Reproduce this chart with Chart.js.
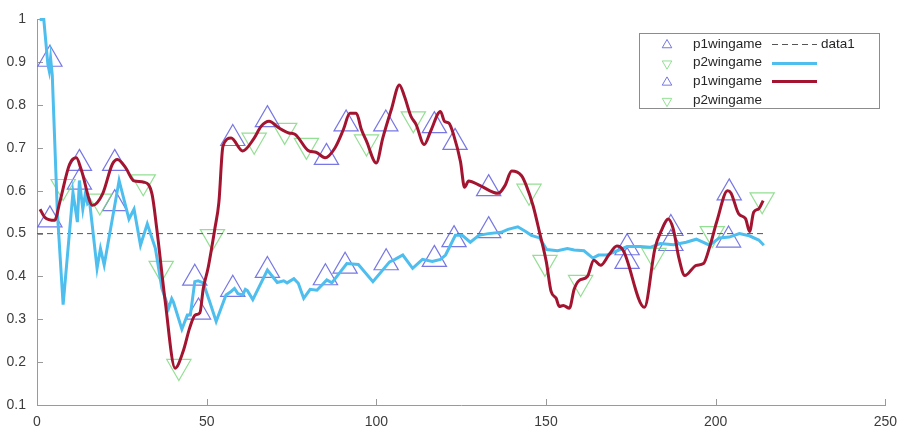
<!DOCTYPE html>
<html>
<head>
<meta charset="utf-8">
<script src="https://cdn.jsdelivr.net/npm/chart.js@4.4.0/dist/chart.umd.min.js"></script>
<style>
  html, body { margin: 0; padding: 0; background: #fff; }
  .wrap { width: 906px; height: 432px; position: relative; }
</style>
</head>
<body>
<div class="wrap"><canvas id="win-chart"></canvas></div>
<script>

// тики осей
const xTicks = [0, 50, 100, 150, 200, 250];
const yTicks = [0.1, 0.2, 0.3, 0.4, 0.5, 0.6, 0.7, 0.8, 0.9, 1];

// голубая линия
const blueX = [0.8, 2, 3.2, 3.6, 4, 4.5, 6, 7.7, 10.6, 11.9, 12.5, 13.5, 14.3, 14.9, 15.5, 17.7, 18.7, 19.8, 24.2, 27.1,
  28.6, 30.5, 32.5, 34.9, 36.8, 38.8, 39.7, 40.2, 42.7, 44.3, 45.2, 46.5, 47.5, 49, 50.9, 52.8, 55.7, 57.2, 58.2, 59.2,
  60.6, 61.4, 62, 63.6, 67.9, 70.8, 72.7, 73.7, 75.7, 77, 78.6, 80.5, 82.5, 85.4, 86.9, 91.3, 94.7, 99, 103.9, 105.5,
  107.8, 110.7, 113.6, 116.5, 118.9, 120.4, 123.3, 125.3, 127.7, 130.2, 133, 136.8, 138.8, 141.7, 144, 145.7, 148.1, 150.2, 153.4, 156.3,
  158.3, 161.2, 163.8, 165.5, 167.9, 171, 173.9, 177.8, 180.7, 183.7, 187.6, 191.3, 194.3, 198.2, 201.1, 204, 207, 209.9, 212.7, 214.2];
const blueY = [1, 1, 0.895, 0.88, 0.91, 0.87, 0.55, 0.334, 0.596, 0.527, 0.624, 0.557, 0.596, 0.57, 0.575, 0.419, 0.465, 0.427, 0.624, 0.534,
  0.557, 0.473, 0.523, 0.465, 0.372, 0.326, 0.348, 0.34, 0.277, 0.31, 0.31, 0.388, 0.39, 0.385, 0.341, 0.295, 0.357, 0.365, 0.372, 0.36,
  0.357, 0.37, 0.367, 0.346, 0.415, 0.386, 0.39, 0.385, 0.395, 0.384, 0.349, 0.37, 0.368, 0.392, 0.385, 0.43, 0.428, 0.388, 0.434, 0.44,
  0.45, 0.419, 0.44, 0.435, 0.44, 0.45, 0.496, 0.496, 0.48, 0.496, 0.5, 0.503, 0.51, 0.516, 0.505, 0.496, 0.49, 0.463, 0.46, 0.465,
  0.462, 0.46, 0.443, 0.45, 0.45, 0.46, 0.47, 0.47, 0.468, 0.477, 0.474, 0.48, 0.487, 0.473, 0.49, 0.492, 0.5, 0.495, 0.485, 0.473];

// бордовая линия
const redX = [0.9, 2.3, 5.2, 6.7, 9.6, 11.6, 13, 16.4, 19.3, 22.2, 23.7, 26.1, 28.6, 31.5, 33.9, 35.3, 37.8, 40.7, 43.1, 45,
  46.6, 48, 49, 50.4, 52.4, 53.6, 54.8, 57.2, 60.6, 64, 66, 68.4, 71.2, 74.2, 76, 80.1, 82.2, 84.9, 87.8, 90.3,
  92.2, 94.1, 95.6, 97.1, 100, 101.9, 104.4, 106.8, 108.3, 110.2, 111.7, 114.1, 116, 118.9, 120.1, 121.4, 122.8, 124.8, 126, 127.2,
  130.6, 135.9, 137.9, 139.9, 142.8, 144.2, 146.2, 148.1, 150.1, 151.5, 153, 153.9, 155.1, 156.9, 158.3, 159.7, 162.2, 164.1, 166.1, 168.5,
  170.9, 172.8, 179, 182.1, 184.1, 186, 187.5, 189.2, 190.9, 194.3, 196.4, 198.2, 200.4, 203.5, 204.5, 206.8, 208.8, 210, 211.2, 212.7, 214];
const redY = [0.557, 0.538, 0.531, 0.573, 0.662, 0.677, 0.65, 0.566, 0.592, 0.662, 0.673, 0.654, 0.623, 0.62, 0.592, 0.511, 0.341, 0.186, 0.226, 0.28,
  0.31, 0.315, 0.372, 0.419, 0.511, 0.573, 0.704, 0.723, 0.693, 0.723, 0.75, 0.762, 0.747, 0.735, 0.732, 0.693, 0.69, 0.677, 0.7, 0.743,
  0.781, 0.781, 0.743, 0.716, 0.665, 0.723, 0.789, 0.847, 0.82, 0.774, 0.755, 0.708, 0.739, 0.785, 0.762, 0.758, 0.73, 0.668, 0.608, 0.623,
  0.612, 0.594, 0.612, 0.646, 0.635, 0.612, 0.565, 0.503, 0.434, 0.365, 0.349, 0.33, 0.332, 0.326, 0.37, 0.39, 0.4, 0.438, 0.426, 0.45,
  0.471, 0.46, 0.328, 0.465, 0.509, 0.534, 0.511, 0.442, 0.402, 0.426, 0.43, 0.468, 0.53, 0.6, 0.595, 0.546, 0.535, 0.505, 0.55, 0.558, 0.577];

// data1
const dashX = [0, 215];
const dashY = [0.5, 0.5];

// маркеры побед (на бордовой)
const p1RedX = [3.8, 12.5, 22.9, 47.6, 57.7, 67.9, 85.3, 91.1, 102.8, 117.1, 123.2, 133.1, 173.9, 186.8, 204];
const p1RedY = [0.532, 0.664, 0.664, 0.317, 0.722, 0.766, 0.678, 0.756, 0.756, 0.752, 0.713, 0.605, 0.435, 0.512, 0.595];
const p2RedX = [7.7, 18.5, 31.3, 36.6, 41.8, 51.7, 64, 73, 79.4, 97.1, 110.9, 145, 149.7, 160.2, 181.8, 199, 213.7];
const p2RedY = [0.61, 0.576, 0.621, 0.419, 0.19, 0.493, 0.718, 0.741, 0.706, 0.714, 0.768, 0.599, 0.433, 0.386, 0.449, 0.5, 0.579];

// маркеры побед (на голубой)
const p1BlueX = [3.8, 12.5, 22.9, 46.5, 57.7, 67.9, 85, 90.8, 102.9, 117.1, 122.9, 133.1, 173.9, 186.8, 203.8];
const p1BlueY = [0.907, 0.62, 0.57, 0.396, 0.37, 0.414, 0.397, 0.424, 0.432, 0.44, 0.486, 0.507, 0.467, 0.477, 0.485];
const p2BlueX = [];
const p2BlueY = [];

const axisColor = '#9a9a9a';
const fontFamily = '"Liberation Sans", Arial, Helvetica, sans-serif';

function toPts(xs, ys) {
    return xs.map((x, i) => ({x: x, y: ys[i]}));
}

function tri(c, x, y, r, down) {
    const s = down ? -1 : 1;
    c.beginPath();
    c.moveTo(x, y - s * r);
    c.lineTo(x + 0.866 * r, y + s * 0.5 * r);
    c.lineTo(x - 0.866 * r, y + s * 0.5 * r);
    c.closePath();
    c.stroke();
}

// засечки внутрь, как в матлабе
const inwardTicks = {
    id: 'inwardTicks',
    beforeDatasetsDraw(chart) {
        const c = chart.ctx, area = chart.chartArea;
        const sx = chart.scales.x, sy = chart.scales.y;
        c.save();
        c.strokeStyle = axisColor;
        c.lineWidth = 1;
        c.beginPath();
        xTicks.forEach(v => {
            const px = Math.round(sx.getPixelForValue(v)) + 0.5;
            c.moveTo(px, area.bottom);
            c.lineTo(px, area.bottom - 6);
        });
        yTicks.forEach(v => {
            const py = Math.round(sy.getPixelForValue(v)) + 0.5;
            c.moveTo(area.left, py);
            c.lineTo(area.left + 6, py);
        });
        c.stroke();
        c.restore();
    }
};

// легенда в две колонки
const legendBox = {
    id: 'legendBox',
    afterDraw(chart) {
        const c = chart.ctx;
        const ds = chart.data.datasets;
        const rowY = i => 44 + i * 18.7;
        c.save();
        c.fillStyle = '#fff';
        c.fillRect(639.5, 33.5, 240, 75);
        c.strokeStyle = '#8c8c8c';
        c.lineWidth = 1;
        c.strokeRect(639.5, 33.5, 240, 75);
        c.font = '13.5px ' + fontFamily;
        c.textBaseline = 'middle';
        c.textAlign = 'left';

        for (let i = 0; i < 4; i++) {
            c.strokeStyle = ds[i].pointBorderColor;
            c.lineWidth = 1;
            tri(c, 667, rowY(i) + 1, 5.5, ds[i].pointRotation === 180);
            c.fillStyle = '#262626';
            c.fillText(ds[i].label, 693, rowY(i));
        }
        for (let j = 4; j < 7; j++) {
            const y = Math.round(rowY(j - 4)) + 0.5;
            c.strokeStyle = ds[j].borderColor;
            c.lineWidth = ds[j].borderWidth;
            c.setLineDash(ds[j].borderDash || []);
            c.beginPath();
            c.moveTo(772, y);
            c.lineTo(817, y);
            c.stroke();
            c.setLineDash([]);
            if (ds[j].label) {
                c.fillStyle = '#262626';
                c.fillText(ds[j].label, 821, rowY(j - 4));
            }
        }
        c.restore();
    }
};

const markerBase = {
    pointStyle: 'triangle',
    pointRadius: 14,
    pointBackgroundColor: 'rgba(0,0,0,0)',
    pointBorderWidth: 1.2,
    showLine: false,
    order: 3
};

const ctx = document.getElementById('win-chart').getContext('2d');
const winChart = new Chart(ctx, {
    type: 'scatter',
    data: {
        datasets: [
            Object.assign({}, markerBase, {
                label: 'p1wingame',
                data: toPts(p1RedX, p1RedY),
                pointBorderColor: 'rgba(95,95,225,0.85)',
                pointRotation: 0
            }),
            Object.assign({}, markerBase, {
                label: 'p2wingame',
                data: toPts(p2RedX, p2RedY),
                pointBorderColor: 'rgba(120,215,120,0.8)',
                pointRotation: 180
            }),
            Object.assign({}, markerBase, {
                label: 'p1wingame',
                data: toPts(p1BlueX, p1BlueY),
                pointBorderColor: 'rgba(95,95,225,0.85)',
                pointRotation: 0
            }),
            Object.assign({}, markerBase, {
                label: 'p2wingame',
                data: toPts(p2BlueX, p2BlueY),
                pointBorderColor: 'rgba(120,215,120,0.8)',
                pointRotation: 180
            }),
            {
                label: 'data1',
                type: 'line',
                data: toPts(dashX, dashY),
                showLine: true,
                borderColor: '#555555',
                borderWidth: 1,
                borderDash: [6, 4],
                pointRadius: 0,
                order: 2
            },
            {
                label: '',
                type: 'line',
                data: toPts(blueX, blueY),
                showLine: true,
                borderColor: '#4DBEEE',
                borderWidth: 3,
                pointRadius: 0,
                clip: false,
                order: 1
            },
            {
                label: '',
                type: 'line',
                data: toPts(redX, redY),
                showLine: true,
                borderColor: '#A2142F',
                borderWidth: 3,
                pointRadius: 0,
                cubicInterpolationMode: 'monotone',
                clip: false,
                order: 0
            }
        ]
    },
    options: {
        responsive: true,
        maintainAspectRatio: false,
        animation: false,
        events: [],
        layout: {
            padding: {top: 15, right: 12, left: 0, bottom: 0}
        },
        plugins: {
            legend: {display: false},
            tooltip: {enabled: false}
        },
        scales: {
            x: {
                type: 'linear',
                min: 0,
                max: 250,
                afterBuildTicks: s => { s.ticks = xTicks.map(v => ({value: v})); },
                afterFit: s => { s.height = 27; },
                grid: {display: false, drawTicks: false},
                border: {display: true, color: axisColor, width: 1},
                ticks: {
                    padding: 9,
                    color: '#3c3c3c',
                    font: {family: fontFamily, size: 14},
                    maxRotation: 0
                }
            },
            y: {
                min: 0.1,
                max: 1,
                afterBuildTicks: s => { s.ticks = yTicks.map(v => ({value: v})); },
                afterFit: s => { s.width = 37; },
                grid: {display: false, drawTicks: false},
                border: {display: true, color: axisColor, width: 1},
                ticks: {
                    padding: 11,
                    color: '#3c3c3c',
                    font: {family: fontFamily, size: 14},
                    callback: v => String(+v.toFixed(1))
                }
            }
        }
    },
    plugins: [inwardTicks, legendBox]
});

</script>
</body>
</html>
